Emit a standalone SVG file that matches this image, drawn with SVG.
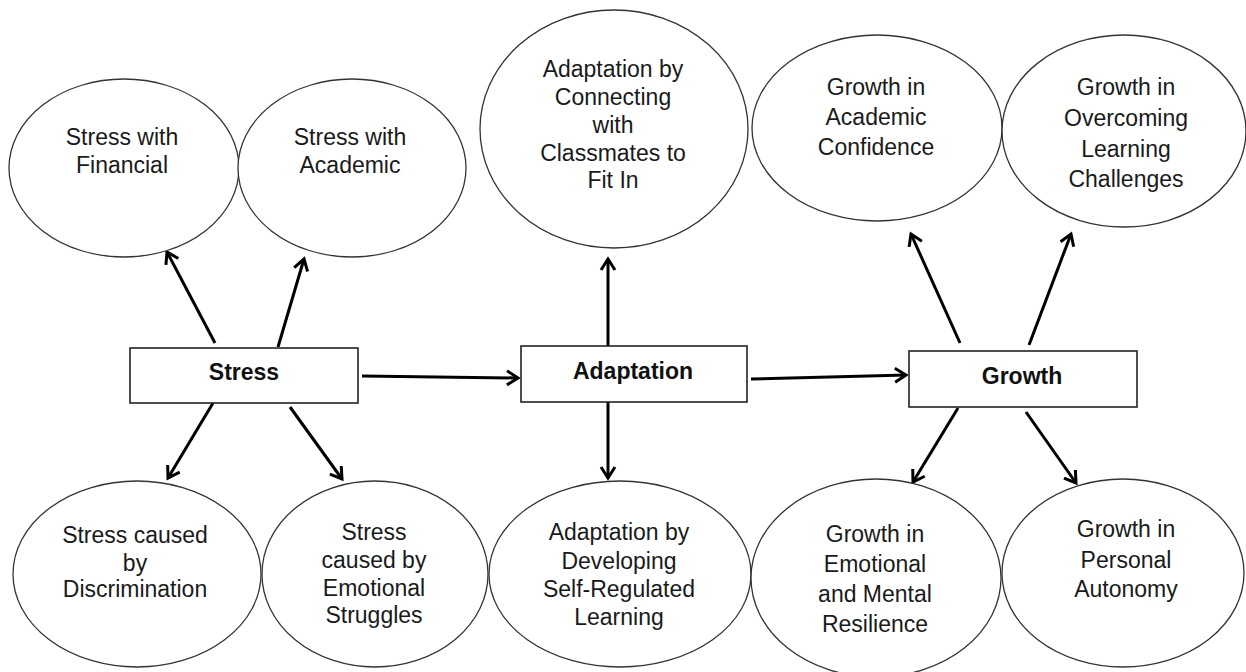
<svg xmlns="http://www.w3.org/2000/svg" width="1246" height="672" viewBox="0 0 1246 672">
<style>
.bg{fill:#fff}
.ell{fill:#fff;stroke:#333;stroke-width:1.3}
.box{fill:#fff;stroke:#222;stroke-width:1.6}
.t{font-family:"Liberation Sans",Arial,sans-serif;font-size:23px;fill:#1a1a1a;text-anchor:middle}
.b{font-family:"Liberation Sans",Arial,sans-serif;font-size:23px;font-weight:bold;fill:#111;text-anchor:middle}
.c{stroke:#000;stroke-width:3;fill:none;marker-end:url(#ah)}
</style>
<defs>
<marker id="ah" markerUnits="userSpaceOnUse" markerWidth="18" markerHeight="18" viewBox="0 0 18 18" refX="15" refY="9" orient="auto">
<path d="M4,2 L15,9 L4,16" fill="none" stroke="#000" stroke-width="3" stroke-linejoin="miter"/>
</marker>
</defs>
<rect class="bg" x="0" y="0" width="1246" height="672"/>
<g id="connectors">
<line class="c" x1="215" y1="343" x2="167" y2="252"/>
<line class="c" x1="278" y1="347" x2="304" y2="259"/>
<line class="c" x1="213" y1="403" x2="168" y2="478"/>
<line class="c" x1="290" y1="407" x2="342" y2="479"/>
<line class="c" x1="362" y1="376" x2="518" y2="378"/>
<line class="c" x1="608" y1="346" x2="608" y2="259"/>
<line class="c" x1="608" y1="402" x2="608" y2="478"/>
<line class="c" x1="751" y1="379" x2="906" y2="375"/>
<line class="c" x1="960" y1="343" x2="911" y2="234"/>
<line class="c" x1="1029" y1="345" x2="1071" y2="234"/>
<line class="c" x1="958" y1="408" x2="913" y2="482"/>
<line class="c" x1="1026" y1="412" x2="1076" y2="483"/>
</g>
<g id="n-stress-financial">
<ellipse class="ell" cx="124" cy="168" rx="115" ry="89"/>
<text class="t" x="122" y="145">Stress with</text>
<text class="t" x="122" y="173">Financial</text>
</g>
<g id="n-stress-academic">
<ellipse class="ell" cx="352" cy="168" rx="114" ry="89"/>
<text class="t" x="350" y="145">Stress with</text>
<text class="t" x="350" y="173">Academic</text>
</g>
<g id="n-adapt-connect">
<ellipse class="ell" cx="614" cy="129" rx="134" ry="119"/>
<text class="t" x="613" y="77">Adaptation by</text>
<text class="t" x="613" y="105">Connecting</text>
<text class="t" x="613" y="133">with</text>
<text class="t" x="613" y="161">Classmates to</text>
<text class="t" x="613" y="188">Fit In</text>
</g>
<g id="n-growth-academic">
<ellipse class="ell" cx="877" cy="128" rx="125" ry="93"/>
<text class="t" x="876" y="95">Growth in</text>
<text class="t" x="876" y="125">Academic</text>
<text class="t" x="876" y="155">Confidence</text>
</g>
<g id="n-growth-overcoming">
<ellipse class="ell" cx="1124" cy="131" rx="122" ry="96"/>
<text class="t" x="1126" y="95">Growth in</text>
<text class="t" x="1126" y="126">Overcoming</text>
<text class="t" x="1126" y="157">Learning</text>
<text class="t" x="1126" y="187">Challenges</text>
</g>
<g id="n-stress">
<rect class="box" x="130" y="348" width="228" height="55"/>
<text class="b" x="244" y="380">Stress</text>
</g>
<g id="n-adaptation">
<rect class="box" x="521" y="346" width="226" height="56"/>
<text class="b" x="633" y="379">Adaptation</text>
</g>
<g id="n-growth">
<rect class="box" x="909" y="351" width="228" height="56"/>
<text class="b" x="1022" y="384">Growth</text>
</g>
<g id="n-stress-discrimination">
<ellipse class="ell" cx="137" cy="574" rx="124" ry="93"/>
<text class="t" x="135" y="543">Stress caused</text>
<text class="t" x="135" y="571">by</text>
<text class="t" x="135" y="597">Discrimination</text>
</g>
<g id="n-stress-emotional">
<ellipse class="ell" cx="375" cy="574" rx="113" ry="93"/>
<text class="t" x="374" y="540">Stress</text>
<text class="t" x="374" y="568">caused by</text>
<text class="t" x="374" y="596">Emotional</text>
<text class="t" x="374" y="623">Struggles</text>
</g>
<g id="n-adapt-selfreg">
<ellipse class="ell" cx="620" cy="574" rx="131" ry="93"/>
<text class="t" x="619" y="540">Adaptation by</text>
<text class="t" x="619" y="569">Developing</text>
<text class="t" x="619" y="597">Self-Regulated</text>
<text class="t" x="619" y="625">Learning</text>
</g>
<g id="n-growth-emotional">
<ellipse class="ell" cx="876" cy="578" rx="125" ry="99"/>
<text class="t" x="875" y="542">Growth in</text>
<text class="t" x="875" y="572">Emotional</text>
<text class="t" x="875" y="602">and Mental</text>
<text class="t" x="875" y="632">Resilience</text>
</g>
<g id="n-growth-autonomy">
<ellipse class="ell" cx="1123" cy="573" rx="121" ry="94"/>
<text class="t" x="1126" y="537">Growth in</text>
<text class="t" x="1126" y="568">Personal</text>
<text class="t" x="1126" y="597">Autonomy</text>
</g>
</svg>
